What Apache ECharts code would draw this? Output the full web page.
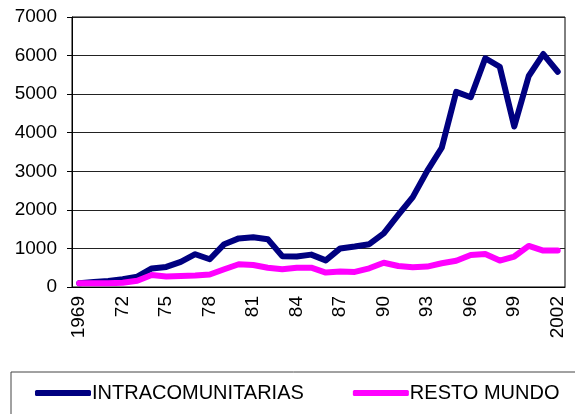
<!DOCTYPE html>
<html>
<head>
<meta charset="utf-8">
<style>
  html, body { margin: 0; padding: 0; background: #fff; }
  #chart { width: 575px; height: 414px; }
</style>
<script src="https://cdn.jsdelivr.net/npm/echarts@6/dist/echarts.min.js"></script>
</head>
<body>
<div id="chart"></div>
<script>
// years 1969 - 2002, labelled the way the original sheet does it
var years = ['1969', '70', '71', '72', '73', '74', '75', '76', '77', '78',
  '79', '80', '81', '82', '83', '84', '85', '86', '87', '88',
  '89', '90', '91', '92', '93', '94', '95', '96', '97', '98',
  '99', '2000', '01', '2002'];

var intracomunitarias = [100, 130, 155, 200, 270, 480, 520, 650, 850, 720,
  1110, 1260, 1290, 1240, 800, 790, 840, 690, 1000, 1050,
  1110, 1390, 1870, 2330, 3010, 3610, 5060, 4920, 5930, 5710,
  4160, 5470, 6040, 5580];

var restoMundo = [95, 95, 100, 110, 160, 310, 270, 285, 300, 325,
  460, 590, 570, 500, 460, 500, 500, 375, 400, 390,
  485, 630, 545, 510, 530, 615, 680, 830, 855, 685,
  790, 1065, 945, 945];

var chart = echarts.init(document.getElementById('chart'));

var fontFamily = 'Liberation Sans, Arial, sans-serif';

chart.setOption({
  animation: false,
  backgroundColor: '#fff',
  grid: {
    left: 72,
    right: 10,
    top: 17,
    bottom: 127,
    show: true,
    borderColor: '#000',
    borderWidth: 1
  },
  legend: {
    left: 11,
    top: 372,
    width: 580,
    padding: [11, 60, 40, 24],
    borderColor: '#444',
    borderWidth: 1,
    icon: 'roundRect',
    itemWidth: 56,
    itemHeight: 6,
    itemGap: 49,
    textStyle: {
      fontFamily: fontFamily,
      fontSize: 20,
      color: '#000',
      padding: [0, 0, 0, -4]
    },
    data: ['INTRACOMUNITARIAS', 'RESTO MUNDO']
  },
  xAxis: {
    type: 'category',
    data: years,
    boundaryGap: true,
    axisLine: { lineStyle: { color: '#000', width: 1 } },
    axisTick: { interval: 0, length: 6, lineStyle: { color: '#000' } },
    axisLabel: {
      interval: 2,
      rotate: 90,
      margin: 9,
      fontFamily: fontFamily,
      fontSize: 19,
      color: '#000'
    },
    splitLine: { show: false }
  },
  yAxis: {
    type: 'value',
    min: 0,
    max: 7000,
    interval: 1000,
    axisLine: { show: true, lineStyle: { color: '#000', width: 1 } },
    axisTick: { show: true, length: 5, lineStyle: { color: '#000' } },
    axisLabel: {
      margin: 15,
      fontFamily: fontFamily,
      fontSize: 19,
      color: '#000',
      formatter: function (v) { return String(v); }
    },
    splitLine: { show: true, lineStyle: { color: '#222', width: 1 } }
  },
  series: [
    {
      name: 'INTRACOMUNITARIAS',
      type: 'line',
      data: intracomunitarias,
      symbol: 'none',
      itemStyle: { color: '#000080' },
      lineStyle: { color: '#000080', width: 6, cap: 'round', join: 'round' }
    },
    {
      name: 'RESTO MUNDO',
      type: 'line',
      data: restoMundo,
      symbol: 'none',
      itemStyle: { color: '#ff00ff' },
      lineStyle: { color: '#ff00ff', width: 6, cap: 'round', join: 'round' }
    }
  ]
});
</script>
</body>
</html>
